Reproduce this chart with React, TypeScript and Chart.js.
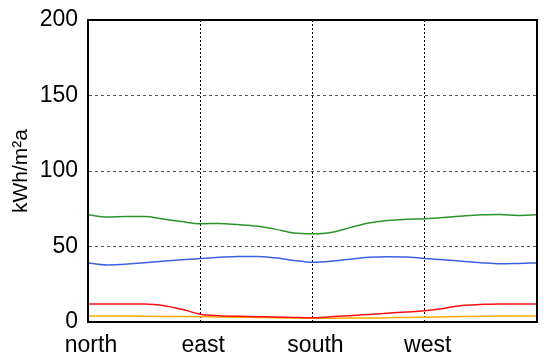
import React, { useEffect, useRef } from "react";
import { Chart, registerables } from "chart.js";

Chart.register(...registerables);

const angles = [0, 15, 30, 45, 60, 75, 90, 105, 120, 135, 150, 165, 180, 195, 210, 225, 240, 255, 270, 285, 300, 315, 330, 345, 360];
const directionLabels = ["north", "east", "south", "west", ""];
const yTicks = [0, 50, 100, 150, 200];
const yTitle = "kWh/m²a";

const greenValues = [71, 69.5, 69.8, 69.8, 68.2, 66.5, 65, 65.3, 64.5, 63.5, 61.5, 59, 58.5, 59.3, 62.5, 65.5, 67.2, 68, 68.4, 69.2, 70.2, 71, 71.2, 70.6, 71];
const blueValues = [39.1, 37.8, 38.2, 39.2, 40.2, 41.2, 42, 42.8, 43.4, 43.4, 42.5, 40.8, 39.5, 40.2, 41.6, 42.8, 43.2, 43.1, 42, 41.2, 40.2, 39.3, 38.6, 38.8, 39.1];
const redValues = [12, 12, 12, 11.9, 11, 8.5, 5.2, 4.2, 3.8, 3.5, 3.3, 3, 2.8, 3.5, 4.2, 5, 5.8, 6.6, 7.5, 9, 11, 11.6, 12, 12, 12];
const orangeValues = [4, 4, 3.9, 3.8, 3.7, 3.6, 3.5, 3.3, 3.2, 3, 2.8, 2.6, 2.5, 2.5, 2.6, 2.6, 2.8, 3, 3.2, 3.4, 3.6, 3.8, 4, 4, 4];

const toXY = (vals: number[]) => vals.map((v, i) => ({ x: angles[i], y: v }));

const framePlugin = {
  id: "frame",
  afterDraw(chart: any) {
    const { ctx, chartArea } = chart;
    ctx.save();
    ctx.strokeStyle = "#000";
    ctx.lineWidth = 2;
    ctx.setLineDash([]);
    ctx.strokeRect(chartArea.left, chartArea.top, chartArea.right - chartArea.left, chartArea.bottom - chartArea.top);
    ctx.restore();
  },
};

export default function App() {
  const ref = useRef<HTMLCanvasElement | null>(null);
  useEffect(() => {
    document.body.style.margin = "0";
    const canvas = ref.current!;
    const font = "'Liberation Sans', Arial, sans-serif";
    const chart = new Chart(canvas, {
      type: "line",
      data: {
        datasets: [
          { data: toXY(greenValues), borderColor: "#2a962a" },
          { data: toXY(blueValues), borderColor: "#3b62e0" },
          { data: toXY(redValues), borderColor: "#ff1010" },
          { data: toXY(orangeValues), borderColor: "#ffaa00" },
        ].map((d) => ({ ...d, borderWidth: 1.5, pointRadius: 0, cubicInterpolationMode: "monotone", fill: false })),
      },
      options: {
        animation: false,
        responsive: false,
        devicePixelRatio: 1,
        layout: { padding: { top: 20, right: 7, left: 0, bottom: 0 } },
        plugins: { legend: { display: false }, tooltip: { enabled: false } },
        scales: {
          x: {
            type: "linear",
            min: 0,
            max: 360,
            afterFit: (s: any) => { s.height = 35; s.paddingLeft = 0; s.paddingRight = 0; },
            afterBuildTicks: (s: any) => { s.ticks = angles.filter((a) => a % 90 === 0).map((a) => ({ value: a })); },
            ticks: {
              color: "#000",
              font: { family: font, size: 23 },
              padding: 10,
              maxRotation: 0,
              autoSkip: false,
              labelOffset: 3,
              callback: (v: any) => directionLabels[Math.round(Number(v) / 90)] ?? "",
            },
            grid: {
              drawTicks: false,
              color: (c: any) => (c.tick && (c.tick.value === 0 || c.tick.value === 360) ? "rgba(0,0,0,0)" : "#000"),
              lineWidth: 1,
            },
            border: { display: true, color: "#000", width: 2, dash: [2, 2] },
          } as any,
          y: {
            min: 0,
            max: 200,
            afterFit: (s: any) => { s.width = 88; s.paddingTop = 0; s.paddingBottom = 0; },
            afterBuildTicks: (s: any) => { s.ticks = yTicks.map((v) => ({ value: v })); },
            ticks: { color: "#000", font: { family: font, size: 23 }, padding: 10 },
            grid: {
              drawTicks: false,
              color: (c: any) => (c.tick && (c.tick.value === 0 || c.tick.value === 200) ? "rgba(0,0,0,0)" : "#555"),
              lineWidth: 1,
            },
            border: { display: true, color: "#000", width: 2, dash: [3, 3] },
            title: { display: true, text: yTitle, color: "#000", font: { family: font, size: 21 }, padding: { top: 9, bottom: 0 } },
          } as any,
        },
      },
      plugins: [framePlugin],
    } as any);
    return () => chart.destroy();
  }, []);
  return <canvas ref={ref} width={544} height={357} style={{ display: "block" }} />;
}
